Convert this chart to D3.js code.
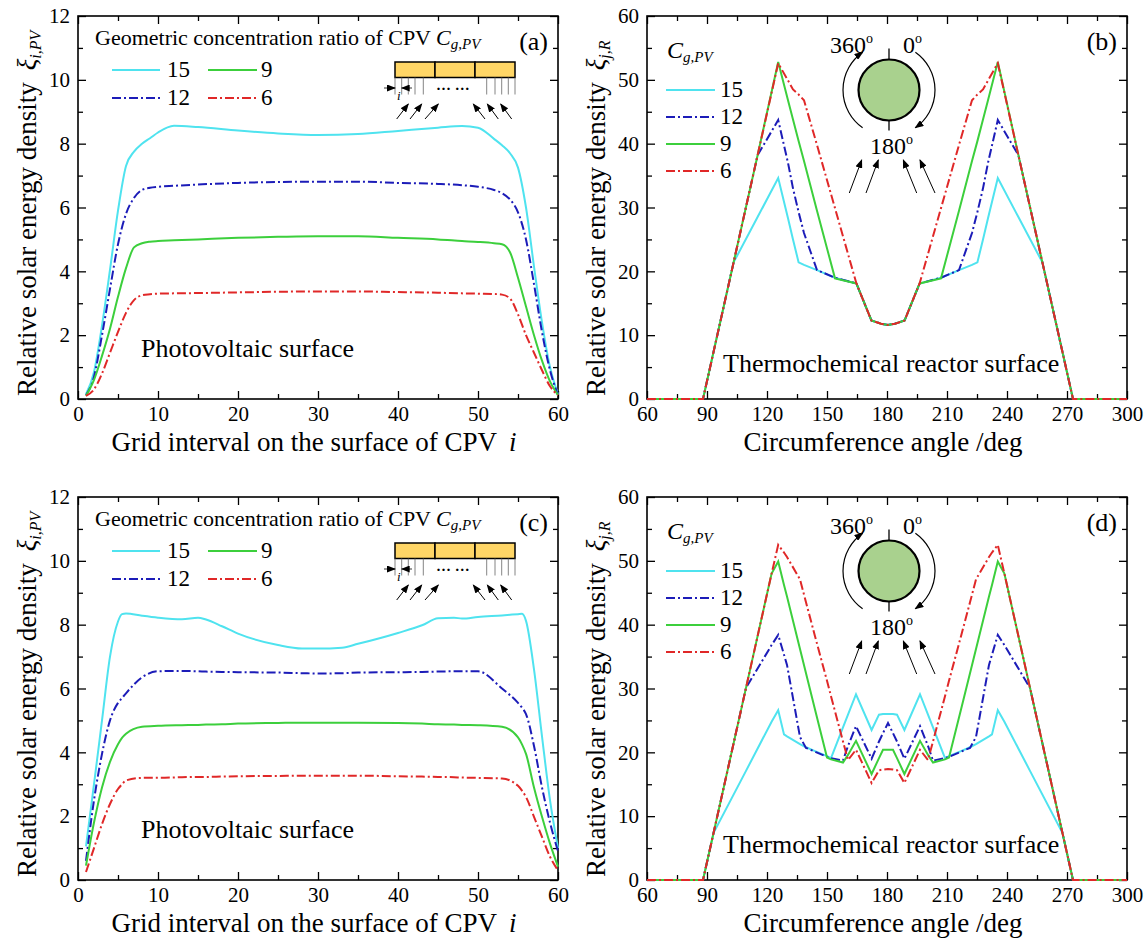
<!DOCTYPE html>
<html lang="en">
<head>
<meta charset="UTF-8">
<title>Relative solar energy density</title>
<script src="https://cdn.jsdelivr.net/npm/d3@7/dist/d3.min.js"></script>
<style>
  body { margin: 0; background: #fff; }
  svg { font-family: "Liberation Serif", "Times New Roman", serif; }
</style>
</head>
<body>
<svg width="1145" height="939" id="main"></svg>
<script>
    // series order = legend order
    const ratios = ["15", "12", "9", "6"];
    const colors = ["#4fe3ef", "#1c1cb8", "#3ccf3c", "#e02828"];
    const dashes = [null, "9,3,2,3", null, "9,3,2,3"];

    // (a) grid interval i, photovoltaic surface
    const gridA = [1, 2, 3, 4, 5, 6, 7, 8, 9, 10, 12, 15, 20, 25, 30, 35, 40, 45, 48, 50, 52, 53, 54, 55, 56, 57, 58, 59, 60];
    const pvA15 = [0.15, 0.85, 2.3, 4.05, 5.9, 7.3, 7.75, 8.0, 8.17, 8.35, 8.56, 8.52, 8.41, 8.32, 8.27, 8.3, 8.4, 8.5, 8.55, 8.5, 8.15, 7.95, 7.7, 7.25, 6.0, 4.15, 2.4, 1.0, 0.15];
    const pvA12 = [0.12, 0.7, 2.0, 3.45, 4.85, 5.8, 6.3, 6.55, 6.62, 6.65, 6.68, 6.72, 6.77, 6.8, 6.81, 6.81, 6.77, 6.74, 6.7, 6.65, 6.55, 6.45, 6.25, 5.85, 5.0, 3.6, 2.1, 0.9, 0.12];
    const pvA9 = [0.1, 0.6, 1.35, 2.2, 3.2, 4.1, 4.75, 4.88, 4.93, 4.95, 4.97, 5.0, 5.05, 5.08, 5.1, 5.1, 5.05, 5.0, 4.95, 4.92, 4.88, 4.85, 4.6, 3.8, 2.9, 2.0, 1.2, 0.55, 0.12];
    const pvA6 = [0.1, 0.3, 0.8, 1.45, 2.1, 2.7, 3.1, 3.25, 3.28, 3.3, 3.31, 3.32, 3.34, 3.36, 3.37, 3.37, 3.35, 3.33, 3.31, 3.3, 3.29, 3.27, 3.15, 2.65, 2.0, 1.45, 0.9, 0.4, 0.12];

    // (c)
    const gridC = [1, 2, 3, 4, 5, 5.5, 6, 8, 10, 13, 15, 16, 18, 20, 25, 28, 30, 33, 35, 40, 43, 45, 47, 48, 50, 53, 55, 55.5, 56, 57, 58, 59, 60];
    const pvC15 = [1.05, 3.0, 5.0, 7.0, 8.1, 8.33, 8.35, 8.28, 8.22, 8.17, 8.22, 8.16, 7.95, 7.72, 7.36, 7.25, 7.25, 7.28, 7.4, 7.74, 7.98, 8.2, 8.22, 8.19, 8.24, 8.29, 8.33, 8.34, 8.12, 6.6, 4.5, 2.5, 1.0];
    const pvC12 = [0.6, 2.5, 3.95, 5.0, 5.55, 5.7, 5.85, 6.35, 6.54, 6.55, 6.54, 6.53, 6.52, 6.51, 6.5, 6.48, 6.47, 6.48, 6.5, 6.51, 6.52, 6.53, 6.54, 6.54, 6.54, 6.0, 5.55, 5.4, 5.2, 4.2, 2.9, 1.8, 0.9];
    const pvC9 = [0.45, 1.8, 2.9, 3.7, 4.25, 4.45, 4.58, 4.8, 4.83, 4.85, 4.86, 4.87, 4.88, 4.9, 4.92, 4.93, 4.93, 4.93, 4.93, 4.92, 4.9, 4.88, 4.87, 4.86, 4.85, 4.8, 4.47, 4.25, 3.95, 2.9, 1.98, 1.14, 0.42];
    const pvC6 = [0.25, 1.0, 1.75, 2.38, 2.85, 3.0, 3.12, 3.2, 3.2, 3.22, 3.23, 3.23, 3.24, 3.25, 3.26, 3.27, 3.27, 3.27, 3.27, 3.25, 3.24, 3.23, 3.22, 3.21, 3.2, 3.18, 2.95, 2.8, 2.6, 1.98, 1.35, 0.73, 0.3];

    // (b) circumference angle, reactor surface
    const angB = [60, 88, 103.3, 115.3, 125.6, 130.5, 133, 135.8, 138.5, 145, 154, 164.7, 172.2, 177, 180.5, 184, 188.8, 196.3, 207, 216, 222.5, 225.2, 228, 230.5, 235.4, 245.7, 257.7, 273, 300];
    const trB15 = [0, 0, 21.4, 28.5, 34.6, 28.3, 25.0, 21.4, 21.0, 20.2, 19.0, 18.1, 12.3, 11.8, 11.6, 11.8, 12.3, 18.1, 19.0, 20.2, 21.0, 21.4, 25.0, 28.3, 34.6, 28.5, 21.4, 0, 0];
    const trB12 = [0, 0, 21.4, 38.2, 43.7, 37.0, 33.0, 29.3, 26.0, 20.2, 19.0, 18.1, 12.3, 11.8, 11.6, 11.8, 12.3, 18.1, 19.0, 20.2, 26.0, 29.3, 33.0, 37.0, 43.7, 38.2, 21.4, 0, 0];
    const trB9 = [0, 0, 21.4, 38.2, 52.8, 46.8, 43.8, 40.4, 37.3, 29.5, 18.9, 18.1, 12.3, 11.8, 11.6, 11.8, 12.3, 18.1, 18.9, 29.5, 37.3, 40.4, 43.8, 46.8, 52.8, 38.2, 21.4, 0, 0];
    const trB6 = [0, 0, 21.4, 38.2, 52.6, 49.9, 48.5, 47.7, 46.8, 39.8, 29.9, 18.1, 12.3, 11.8, 11.6, 11.8, 12.3, 18.1, 29.9, 39.8, 46.8, 47.7, 48.5, 49.9, 52.6, 38.2, 21.4, 0, 0];

    // (d)
    const angD = [60, 88, 93.3, 109.5, 122.3, 125.6, 128.5, 130, 136.5, 139.5, 144, 150, 152, 158, 160.5, 164.5, 172.3, 176, 178, 180.5, 183, 185, 188.7, 196.5, 200.5, 203, 209, 211, 217, 221.5, 224.5, 231, 232.5, 235.4, 238.7, 251.5, 267.7, 273, 300];
    const trD15 = [0, 0, 7.4, 17.1, 24.8, 26.6, 22.8, 22.5, 21.3, 20.8, 20.2, 19.4, 19.1, 23.9, 25.9, 29.1, 23.5, 25.9, 26.0, 26.0, 26.0, 25.9, 23.5, 29.1, 25.9, 23.9, 19.1, 19.4, 20.2, 20.8, 21.3, 22.5, 22.8, 26.6, 24.8, 17.1, 7.4, 0, 0];
    const trD12 = [0, 0, 7.4, 30.1, 36.8, 38.4, 35.3, 33.7, 22.4, 20.7, 20.1, 19.3, 19.1, 18.7, 21.0, 24.1, 19.0, 21.7, 23.0, 24.6, 23.0, 21.7, 19.0, 24.1, 21.0, 18.7, 19.1, 19.3, 20.1, 20.7, 22.4, 33.7, 35.3, 38.4, 36.8, 30.1, 7.4, 0, 0];
    const trD9 = [0, 0, 7.4, 30.1, 48.0, 49.9, 46.2, 44.4, 36.2, 32.4, 26.7, 19.2, 18.9, 18.4, 19.6, 21.8, 16.6, 19.1, 20.4, 20.4, 20.4, 19.1, 16.6, 21.8, 19.6, 18.4, 18.9, 19.2, 26.7, 32.4, 36.2, 44.4, 46.2, 49.9, 48.0, 30.1, 7.4, 0, 0];
    const trD6 = [0, 0, 7.4, 30.1, 48.0, 52.5, 51.3, 50.6, 47.1, 43.5, 38.2, 31.2, 28.8, 21.7, 18.8, 20.4, 15.2, 17.2, 17.3, 17.4, 17.3, 17.2, 15.2, 20.4, 18.8, 21.7, 28.8, 31.2, 38.2, 43.5, 47.1, 50.6, 51.3, 52.5, 48.0, 30.1, 7.4, 0, 0];

    // tick labels
    const gridTicks = [0, 10, 20, 30, 40, 50, 60];
    const gridMinor = [5, 15, 25, 35, 45, 55];
    const pvTicks = [0, 2, 4, 6, 8, 10, 12];
    const pvMinor = [1, 3, 5, 7, 9, 11];
    const angTicks = [60, 90, 120, 150, 180, 210, 240, 270, 300];
    const angMinor = [75, 105, 135, 165, 195, 225, 255, 285];
    const trTicks = [0, 10, 20, 30, 40, 50, 60];
    const trMinor = [5, 15, 25, 35, 45, 55];

    const W = 480, H = 383;
    const FONT = "'Liberation Serif', 'Times New Roman', serif";
    const svg = d3.select('#main').attr("font-family", FONT);

    const defs = svg.append("defs");
    defs.append("marker").attr("id", "arr")
        .attr("markerUnits", "userSpaceOnUse")
        .attr("markerWidth", 9).attr("markerHeight", 7)
        .attr("refX", 8).attr("refY", 3.5).attr("orient", "auto")
        .append("path").attr("d", "M0,0 L9,3.5 L0,7 Z").attr("fill", "#000");

    const panels = [
        {left: 78, top: 16, kind: "pv", label: "(a)", xs: gridA, ys: [pvA15, pvA12, pvA9, pvA6]},
        {left: 647, top: 16, kind: "tr", label: "(b)", xs: angB, ys: [trB15, trB12, trB9, trB6]},
        {left: 78, top: 497, kind: "pv", label: "(c)", xs: gridC, ys: [pvC15, pvC12, pvC9, pvC6]},
        {left: 647, top: 497, kind: "tr", label: "(d)", xs: angD, ys: [trD15, trD12, trD9, trD6]}
    ];

    panels.forEach(drawPanel);

    function drawPanel(p) {
        const pv = p.kind === "pv";
        const x = d3.scaleLinear().domain(pv ? [0, 60] : [60, 300]).range([0, W]);
        const y = d3.scaleLinear().domain(pv ? [0, 12] : [0, 60]).range([H, 0]);
        const g = svg.append("g").attr("transform", `translate(${p.left},${p.top})`);

        const xMaj = pv ? gridTicks : angTicks, xMin = pv ? gridMinor : angMinor;
        const yMaj = pv ? pvTicks : trTicks, yMin = pv ? pvMinor : trMinor;

        const axes = [
            [d3.axisBottom(x).tickValues(xMaj).tickSize(-8).tickPadding(7), `translate(0,${H})`],
            [d3.axisBottom(x).tickValues(xMin).tickSize(-5).tickFormat(""), `translate(0,${H})`],
            [d3.axisTop(x).tickValues(xMaj).tickSize(-8).tickFormat(""), null],
            [d3.axisTop(x).tickValues(xMin).tickSize(-5).tickFormat(""), null],
            [d3.axisLeft(y).tickValues(yMaj).tickSize(-8).tickPadding(8), null],
            [d3.axisLeft(y).tickValues(yMin).tickSize(-5).tickFormat(""), null],
            [d3.axisRight(y).tickValues(yMaj).tickSize(-8).tickFormat(""), `translate(${W},0)`],
            [d3.axisRight(y).tickValues(yMin).tickSize(-5).tickFormat(""), `translate(${W},0)`]
        ];
        axes.forEach(([ax, tr]) => {
            const a = g.append("g").call(ax.tickSizeOuter(0)).attr("font-family", FONT);
            if (tr) a.attr("transform", tr);
            a.select(".domain").remove();
            a.selectAll(".tick line").attr("stroke", "#000").attr("stroke-width", 1.3);
            a.selectAll(".tick text").attr("font-size", 21).attr("fill", "#000");
        });

        g.append("rect").attr("width", W).attr("height", H)
            .attr("fill", "none").attr("stroke", "#000").attr("stroke-width", 1.6);

        // curves
        const line = d3.line()
            .x(d => x(d[0])).y(d => y(d[1]))
            .curve(pv ? d3.curveMonotoneX : d3.curveLinear);
        p.ys.forEach((vals, k) => {
            g.append("path")
                .datum(p.xs.map((v, i) => [v, vals[i]]))
                .attr("d", line)
                .attr("fill", "none")
                .attr("stroke", colors[k])
                .attr("stroke-width", 2)
                .attr("stroke-dasharray", dashes[k]);
        });

        // axis titles
        const xt = g.append("text").attr("x", W / 2 - 4).attr("y", H + 52)
            .attr("text-anchor", "middle").attr("font-size", 27);
        xt.append("tspan").text(pv ? "Grid interval on the surface of CPV" : "Circumference angle /deg");
        if (pv) xt.append("tspan").attr("dx", 12).attr("font-style", "italic").text("i");

        const yt = g.append("text").attr("transform", `translate(-42,${H - 3}) rotate(-90)`)
            .attr("font-size", 27);
        yt.append("tspan").text("Relative solar energy density");
        yt.append("tspan").attr("dx", 12).attr("font-style", "italic").text("ξ");
        yt.append("tspan").attr("dy", 5).attr("font-size", 16).attr("font-style", "italic")
            .text(pv ? "i,PV" : "j,R");

        g.append("text").attr("x", 470).attr("y", 34).attr("text-anchor", "end")
            .attr("font-size", 26).text(p.label);

        if (pv) drawPvExtras(g); else drawTrExtras(g);
    }

    function legendRow(g, k, x0, yy, len, lx) {
        g.append("line").attr("x1", x0).attr("x2", x0 + len).attr("y1", yy).attr("y2", yy)
            .attr("stroke", colors[k]).attr("stroke-width", 2).attr("stroke-dasharray", dashes[k]);
        g.append("text").attr("x", lx).attr("y", yy + 7).attr("font-size", 23).text(ratios[k]);
    }

    function drawPvExtras(g) {
        const t = g.append("text").attr("x", 17).attr("y", 29).attr("font-size", 22);
        t.append("tspan").text("Geometric concentration ratio of CPV ");
        t.append("tspan").attr("font-style", "italic").text("C");
        t.append("tspan").attr("font-style", "italic").attr("font-size", 15).attr("dy", 4).text("g,PV");

        legendRow(g, 0, 34, 54, 48, 89);
        legendRow(g, 2, 130, 54, 49, 183);
        legendRow(g, 1, 34, 82, 48, 89);
        legendRow(g, 3, 130, 82, 49, 183);

        g.append("text").attr("x", 63).attr("y", 341).attr("font-size", 26).text("Photovoltaic surface");

        // CPV sketch
        const sx = 317, sy = 46, cw = 40, ch = 15.5;
        for (let k = 0; k < 3; k++) {
            g.append("rect").attr("x", sx + k * cw).attr("y", sy).attr("width", cw).attr("height", ch)
                .attr("fill", "#ffd666").attr("stroke", "#000").attr("stroke-width", 1.5);
        }
        const gl = [0, 6.7, 13.3, 20, 28.3, 91.7, 100, 106.7, 113.3, 120];
        gl.forEach(d => g.append("line").attr("x1", sx + d).attr("x2", sx + d)
            .attr("y1", sy + ch).attr("y2", sy + ch + 17).attr("stroke", "#666").attr("stroke-width", 0.8));
        g.append("line").attr("x1", sx - 11).attr("x2", sx).attr("y1", 72).attr("y2", 72)
            .attr("stroke", "#000").attr("stroke-width", 0.8).attr("marker-end", "url(#arr)");
        g.append("line").attr("x1", sx + 17).attr("x2", sx + 6.7).attr("y1", 72).attr("y2", 72)
            .attr("stroke", "#000").attr("stroke-width", 0.8).attr("marker-end", "url(#arr)");
        g.append("text").attr("x", sx + 2).attr("y", 84).attr("font-size", 13)
            .attr("font-style", "italic").text("i");
        g.append("text").attr("x", sx + 41).attr("y", 78).attr("font-size", 15)
            .attr("font-weight", "bold").text("··· ···");
        const rays = [[1.7, 13.3], [15, 26.7], [30, 43.3], [90, 78.3], [103.3, 92.3], [116.7, 105.7]];
        rays.forEach(([a, b]) => g.append("line")
            .attr("x1", sx + a).attr("y1", 103).attr("x2", sx + b).attr("y2", 88)
            .attr("stroke", "#000").attr("stroke-width", 1).attr("marker-end", "url(#arr)"));
    }

    function drawTrExtras(g) {
        const t = g.append("text").attr("x", 20).attr("y", 42).attr("font-size", 24).attr("font-style", "italic");
        t.append("tspan").text("C");
        t.append("tspan").attr("font-size", 15).attr("dy", 4).text("g,PV");

        [74, 101, 128, 155].forEach((yy, k) => legendRow(g, k, 19, yy, 49, 73));

        g.append("text").attr("x", 76).attr("y", 356).attr("font-size", 26).text("Thermochemical reactor surface");

        // reactor sketch
        const cx = 242, cy = 74, r = 30.5, R = 46;
        g.append("line").attr("x1", cx).attr("x2", cx).attr("y1", cy - r - 11).attr("y2", cy - r)
            .attr("stroke", "#000").attr("stroke-width", 1.3);
        g.append("line").attr("x1", cx).attr("x2", cx).attr("y1", cy + r).attr("y2", cy + r + 10)
            .attr("stroke", "#000").attr("stroke-width", 1.3);
        g.append("circle").attr("cx", cx).attr("cy", cy).attr("r", r)
            .attr("fill", "#a9d18e").attr("stroke", "#000").attr("stroke-width", 2.2);
        const pt = a => [cx + R * Math.sin(a * Math.PI / 180), cy - R * Math.cos(a * Math.PI / 180)];
        [[215, 325], [35, 145]].forEach(([a0, a1]) => {
            const p0 = pt(a0), p1 = pt(a1);
            g.append("path").attr("d", `M${p0[0]},${p0[1]} A${R},${R} 0 0 1 ${p1[0]},${p1[1]}`)
                .attr("fill", "none").attr("stroke", "#000").attr("stroke-width", 1.2)
                .attr("marker-end", "url(#arr)");
        });
        const deg = (x0, y0, s) => {
            const tt = g.append("text").attr("x", x0).attr("y", y0).attr("font-size", 24);
            tt.append("tspan").text(s);
            tt.append("tspan").attr("font-size", 14).attr("dy", -10).text("o");
        };
        deg(183, 37, "360");
        deg(256, 37, "0");
        deg(223, 138, "180");
        const rays = [[202.3, 214.7], [219, 231.3], [269.7, 256.3], [288, 273]];
        rays.forEach(([a, b]) => g.append("line")
            .attr("x1", a).attr("y1", 177).attr("x2", b).attr("y2", 144)
            .attr("stroke", "#000").attr("stroke-width", 1).attr("marker-end", "url(#arr)"));
    }
</script>
</body>
</html>
